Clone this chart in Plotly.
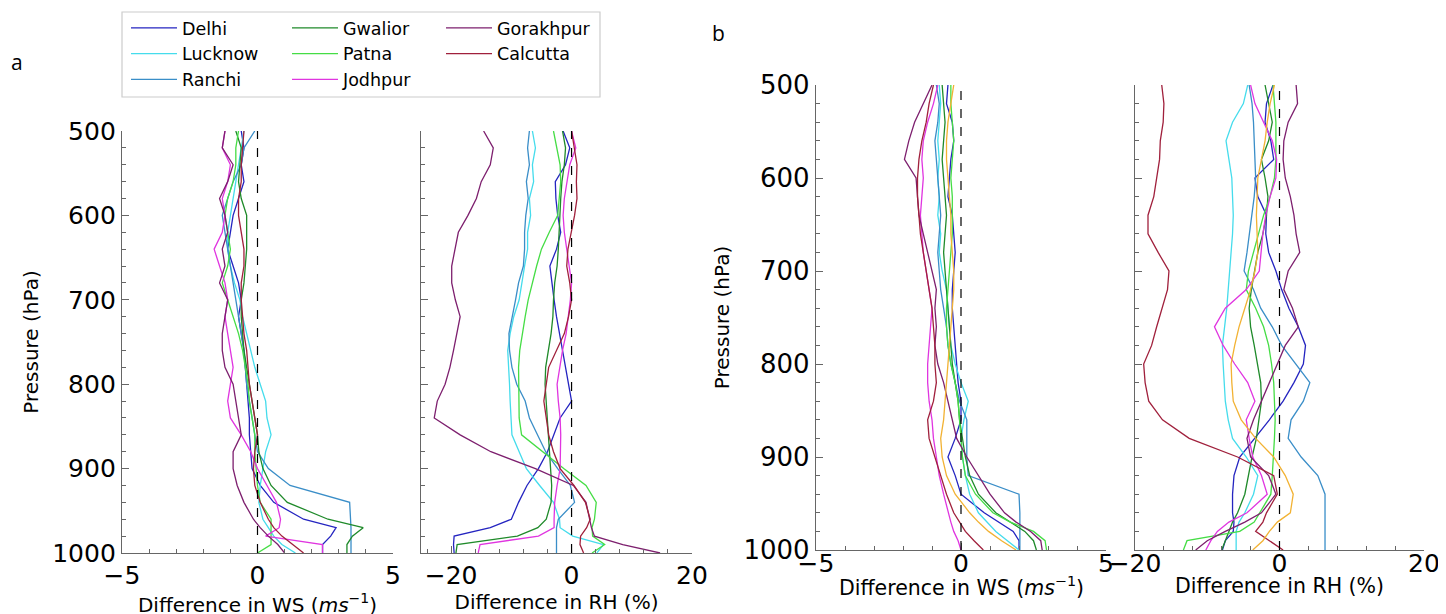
import plotly.graph_objects as go

# pressure levels (hPa) shared by every profile
pressure = [500, 520, 540, 560, 580, 600, 620,
            640, 660, 680, 700, 720, 740, 760,
            780, 800, 820, 840, 860, 880, 900,
            920, 940, 960, 970, 980, 990, 1000]

stations = ["Delhi", "Lucknow", "Ranchi", "Gwalior", "Patna", "Jodhpur", "Gorakhpur", "Calcutta"]
station_colors = ["#2424c0", "#45dcec", "#3a8ec8", "#1f8a2a", "#45dd45", "#e035e0", "#7d1f6e", "#a0203c"]
extra_color = "#f2b233"

# panel a - wind speed difference (m/s)
ws_a_delhi = [-0.6, -0.5, -0.6, -0.5, -0.7, -0.9, -1.0, -1.1, -0.9, -0.7, -0.6, -0.7, -0.6, -0.5,
              -0.45, -0.4, -0.35, -0.3, -0.3, -0.25, -0.2, 0.1, 0.6, 1.7, 2.9, 2.7, 2.4, 2.4]
ws_a_lucknow = [-0.5, -0.6, -0.7, -0.8, -0.9, -1.0, -1.1, -1.1, -1.0, -0.85, -0.65, -0.55, -0.4, -0.25,
                -0.1, 0.1, 0.3, 0.35, 0.5, 0.3, 0.2, 0.1, 0.05, 0.2, 0.4, 0.6, 0.9, 1.4]
ws_a_ranchi = [-0.1, -0.5, -0.6, -0.9, -1.1, -1.3, -1.2, -1.1, -1.0, -0.9, -0.8, -0.7, -0.6, -0.5,
               -0.45, -0.4, -0.3, -0.2, -0.1, 0.0, 0.4, 1.2, 3.4, 3.45, 3.45, 3.45, 3.45, 3.45]
ws_a_gwalior = [-0.8, -0.6, -0.65, -0.7, -0.6, -0.4, -0.4, -0.4, -0.45, -0.5, -0.6, -0.6, -0.55, -0.5,
                -0.4, -0.3, -0.2, -0.1, 0.0, 0.05, 0.2, 0.5, 1.1, 2.6, 3.9, 3.5, 3.3, 3.3]
ws_a_patna = [-0.7, -0.8, -0.8, -0.9, -1.1, -1.2, -1.1, -1.0, -1.1, -1.3, -1.1, -0.9, -0.7, -0.55,
              -0.45, -0.35, -0.3, -0.2, -0.1, -0.1, -0.05, 0.0, 0.1, 0.5, 0.5, 0.5, 0.5, 0.0]
ws_a_jodhpur = [-1.2, -1.3, -1.0, -1.1, -1.3, -1.2, -1.3, -1.6, -1.4, -1.2, -1.1, -1.2, -1.1, -1.0,
                -0.9, -1.0, -1.1, -1.0, -0.6, -0.25, 0.0, 0.35, 0.7, 0.85, 0.8, 0.3, 2.4, 2.4]
ws_a_gorakhpur = [-1.2, -1.3, -0.9, -1.1, -1.4, -1.2, -1.1, -1.3, -1.2, -1.4, -1.1, -1.2, -1.3, -1.3,
                  -1.2, -0.9, -0.8, -0.7, -0.6, -0.9, -0.9, -0.75, -0.5, -0.15, 0.1, 0.4, 0.75, 1.0]
ws_a_calcutta = [-0.5, -0.55, -0.6, -0.6, -0.7, -0.7, -0.6, -0.5, -0.5, -0.6, -0.6, -0.55, -0.5, -0.4,
                 -0.35, -0.3, -0.2, -0.1, 0.0, -0.1, -0.15, -0.1, 0.1, 0.4, 0.6, 0.9, 1.3, 1.7]

# panel a - relative humidity difference (%)
rh_a_delhi = [-1.4, -0.3, -1.0, -2.7, -2.6, -2.3, -1.8, -2.5, -3.6, -3.3, -2.9, -2.5, -2.0, -1.5,
              -1.0, -0.5, 0.0, -1.9, -3.0, -4.0, -5.5, -7.4, -8.8, -10.0, -13.5, -19.5, -19.6, -19.5]
rh_a_lucknow = [-6.5, -6.0, -6.5, -6.3, -7.0, -6.8, -7.3, -7.3, -7.8, -8.3, -8.7, -9.6, -10.2, -10.6,
                -10.4, -10.3, -10.2, -10.1, -9.9, -8.7, -7.5, -5.3, -3.0, -2.0, -1.9, 0.2, 5.3, 4.2]
rh_a_ranchi = [-7.0, -7.3, -7.0, -7.5, -7.2, -7.6, -7.8, -7.8, -8.0, -8.8, -9.3, -9.8, -10.4, -10.3,
               -9.9, -9.1, -7.7, -7.0, -5.7, -4.3, -2.3, -0.2, 0.5, -2.2, -2.5, -2.5, -2.5, -2.5]
rh_a_gwalior = [-1.5, -1.0, -1.2, -1.6, -1.8, -1.9, -2.0, -2.2, -2.4, -2.8, -3.0, -3.1, -3.4, -3.9,
                -4.3, -4.4, -4.2, -4.1, -3.9, -3.6, -3.4, -3.3, -3.4, -4.2, -5.6, -9.0, -19.0, -19.2]
rh_a_patna = [-3.0, -2.5, -1.9, -1.8, -2.0, -2.3, -3.7, -5.0, -5.8, -6.5, -7.2, -7.7, -8.2, -8.6,
              -8.8, -8.8, -8.8, -8.7, -8.3, -4.8, -1.3, 2.4, 4.1, 3.8, 3.4, 3.5, 5.5, 3.4]
rh_a_jodhpur = [0.0, 0.7, -0.3, -0.8, -1.2, -1.4, -1.2, -0.8, -0.4, 0.0, -0.2, -0.6, -0.9, -1.5,
                -2.0, -2.4, -2.2, -1.9, -1.8, -1.8, -1.9, -2.4, -2.8, -2.9, -2.9, -5.5, -15.2, -15.5]
rh_a_gorakhpur = [-14.6, -13.0, -13.5, -15.0, -15.8, -17.2, -18.8, -19.4, -19.9, -19.9, -19.3, -18.5, -19.0, -19.6,
                  -20.2, -21.0, -22.3, -22.8, -18.5, -13.4, -6.0, 0.3, 2.4, 3.0, 3.3, 3.8, 8.5, 14.7]
rh_a_calcutta = [0.0, 0.5, 0.9, 0.8, 0.9, 0.5, 0.0, -0.6, -0.8, -0.3, 0.0, -0.5, -1.2, -2.5,
                 -3.8, -4.2, -4.6, -4.2, -3.8, -3.0, -1.9, 0.4, 2.3, 3.1, 2.5, 1.5, 1.4, 2.0]

# panel b - wind speed difference (m/s)
ws_b_delhi = [-0.45, -0.5, -0.3, -0.25, -0.35, -0.4, -0.45, -0.3, -0.25, -0.2, -0.25, -0.3, -0.3, -0.25,
              -0.2, -0.15, -0.1, 0.0, 0.0, -0.2, -0.45, -0.2, 0.0, 0.8, 1.3, 1.8, 2.0, 2.0]
ws_b_lucknow = [-0.75, -0.7, -0.75, -0.8, -0.75, -0.8, -0.75, -0.8, -0.7, -0.75, -0.65, -0.5, -0.45, -0.4,
                -0.35, -0.2, 0.0, 0.25, 0.1, 0.0, 0.05, 0.15, 0.3, 0.6, 0.9, 1.2, 1.6, 2.0]
ws_b_ranchi = [-0.85, -0.75, -0.8, -0.9, -0.85, -0.8, -0.75, -0.7, -0.75, -0.8, -0.75, -0.7, -0.6, -0.5,
               -0.45, -0.35, -0.2, -0.05, 0.2, 0.2, 0.2, 0.25, 2.0, 2.03, 2.03, 2.03, 2.03, 2.03]
ws_b_gwalior = [-0.65, -0.6, -0.55, -0.6, -0.65, -0.6, -0.55, -0.5, -0.55, -0.6, -0.55, -0.5, -0.45, -0.4,
                -0.35, -0.3, -0.2, -0.1, -0.05, 0.05, 0.15, 0.3, 0.6, 1.2, 1.7, 2.2, 2.5, 2.6]
ws_b_patna = [-0.35, -0.35, -0.3, -0.25, -0.3, -0.35, -0.3, -0.3, -0.3, -0.35, -0.4, -0.45, -0.5, -0.5,
              -0.45, -0.35, -0.2, -0.1, -0.05, 0.0, 0.05, 0.15, 0.5, 1.1, 1.7, 2.5, 2.9, 2.95]
ws_b_jodhpur = [-0.8, -0.95, -1.15, -1.3, -1.35, -1.3, -1.35, -1.4, -1.35, -1.3, -1.2, -1.1, -1.0, -1.05,
                -1.1, -1.15, -1.15, -1.1, -1.0, -0.95, -0.85, -0.75, -0.6, -0.45, -0.35, -0.25, -0.1, 0.0]
ws_b_gorakhpur = [-1.0, -1.3, -1.6, -1.8, -1.95, -1.55, -1.5, -1.45, -1.3, -1.15, -1.0, -0.85, -0.9, -0.85,
                  -0.9, -0.8, -0.6, -0.45, -0.3, -0.15, 0.2, 0.6, 1.0, 1.5, 1.9, 2.4, 2.75, 2.8]
ws_b_calcutta = [-0.95, -1.1, -1.2, -1.35, -1.45, -1.5, -1.5, -1.45, -1.4, -1.3, -1.2, -1.1, -1.0, -0.95,
                 -0.9, -0.9, -0.85, -0.95, -1.15, -1.1, -0.9, -0.7, -0.5, -0.25, -0.05, 0.15, 0.45, 0.77]
ws_b_extra = [-0.25, -0.35, -0.45, -0.5, -0.5, -0.45, -0.4, -0.35, -0.35, -0.3, -0.25, -0.25, -0.3, -0.35,
              -0.4, -0.45, -0.5, -0.55, -0.6, -0.7, -0.65, -0.5, -0.2, 0.3, 0.6, 0.95, 1.4, 1.9]

# panel b - relative humidity difference (%)
rh_b_delhi = [-0.9, -1.8, -2.0, -1.2, -0.8, -3.4, -3.0, -1.8, -1.9, -1.5, -0.5, 0.3, 1.3, 2.6,
              3.6, 3.3, 2.0, 0.5, -1.4, -3.4, -5.5, -6.3, -6.5, -6.5, -6.3, -6.4, -7.5, -7.9]
rh_b_lucknow = [-4.4, -5.0, -6.5, -7.4, -7.0, -6.6, -6.5, -6.4, -6.5, -6.7, -6.8, -7.0, -7.3, -7.6,
                -7.9, -7.8, -7.6, -7.5, -7.1, -6.5, -4.6, -3.0, -3.6, -4.8, -5.6, -6.0, -6.0, -6.0]
rh_b_ranchi = [-4.2, -3.8, -3.6, -3.5, -3.4, -3.3, -3.5, -3.8, -4.1, -4.5, -4.9, -3.6, -2.6, -1.0,
               0.3, 2.2, 4.2, 3.3, 1.6, 1.2, 3.0, 5.3, 6.3, 6.3, 6.3, 6.3, 6.3, 6.3]
rh_b_gwalior = [-2.0, -1.5, -1.0, -1.5, -2.5, -2.0, -1.6, -1.8, -2.3, -3.0, -3.5, -3.9, -4.2, -4.0,
                -3.5, -3.0, -2.6, -2.5, -2.8, -3.2, -3.8, -4.3, -4.8, -5.8, -6.5, -7.0, -7.5, -8.0]
rh_b_patna = [-0.9, -0.7, -0.5, -0.5, -0.5, -0.7, -1.3, -2.2, -2.9, -3.6, -4.3, -4.6, -3.3, -2.2,
              -1.5, -1.1, -0.8, -0.7, -0.6, -0.7, -0.8, -1.0, -1.2, -2.7, -3.5, -5.5, -12.8, -13.3]
rh_b_jodhpur = [-4.0, -3.4, -2.2, -1.0, -0.4, -0.5, -1.3, -1.9, -2.3, -2.6, -2.8, -4.6, -7.5, -9.0,
                -7.8, -6.2, -4.4, -3.4, -4.6, -4.2, -3.7, -2.5, -1.7, -4.5, -7.0, -8.6, -9.5, -10.2]
rh_b_gorakhpur = [2.3, 2.5, 1.2, 0.6, 0.5, 0.8, 1.5, 2.0, 2.3, 2.8, 1.2, 0.6, 1.8, 2.6,
                  0.8, -0.3, -1.4, -2.6, -3.6, -4.5, -4.0, -1.5, -0.5, -2.5, -4.8, -7.5, -10.0, -11.6]
rh_b_calcutta = [-16.3, -16.0, -16.1, -16.5, -16.6, -17.0, -17.4, -18.2, -18.2, -16.8, -15.3, -15.5, -16.3, -17.0,
                 -17.7, -18.8, -18.6, -18.1, -16.2, -12.5, -5.8, -0.8, -0.3, -1.8, -2.3, -3.3, -1.4, 0.5]
rh_b_extra = [-0.7, -1.3, -1.7, -2.0, -2.5, -3.0, -3.1, -3.2, -3.1, -3.0, -3.4, -4.0, -4.8, -5.6,
              -6.2, -6.7, -6.6, -6.4, -5.3, -3.3, -0.8, 0.8, 1.9, 1.5, -0.3, -1.4, -2.3, -3.7]

ws_a = [ws_a_delhi, ws_a_lucknow, ws_a_ranchi, ws_a_gwalior, ws_a_patna, ws_a_jodhpur, ws_a_gorakhpur, ws_a_calcutta]
rh_a = [rh_a_delhi, rh_a_lucknow, rh_a_ranchi, rh_a_gwalior, rh_a_patna, rh_a_jodhpur, rh_a_gorakhpur, rh_a_calcutta]
ws_b = [ws_b_delhi, ws_b_lucknow, ws_b_ranchi, ws_b_gwalior, ws_b_patna, ws_b_jodhpur, ws_b_gorakhpur, ws_b_calcutta]
rh_b = [rh_b_delhi, rh_b_lucknow, rh_b_ranchi, rh_b_gwalior, rh_b_patna, rh_b_jodhpur, rh_b_gorakhpur, rh_b_calcutta]

# legend columns (three boxes side by side, filled column-wise)
legend_of = ["legend", "legend", "legend", "legend2", "legend2", "legend2", "legend3", "legend3"]

W, H = 1446, 614
OFF = 8  # the page body margin shifts the plot by 8 px
FONT = "DejaVu Sans"
AXIS_COLOR = "#666666"


def px(x):
    return (x - OFF) / W


def py(y):
    return 1 - (y - OFF) / H


def dom_x(left, right):
    return [px(left), px(right)]


def dom_y(top, bottom):
    return [py(bottom), py(top)]


fig = go.Figure()

# panels: (x axis, y axis, data)
panels = [("x", "y", ws_a), ("x2", "y2", rh_a), ("x3", "y3", ws_b), ("x4", "y4", rh_b)]
for k, (xa, ya, data) in enumerate(panels):
    for i, name in enumerate(stations):
        fig.add_scatter(
            x=data[i], y=pressure, mode="lines", name=name,
            line=dict(color=station_colors[i], width=1.3),
            xaxis=xa, yaxis=ya, legend=legend_of[i], legendgroup=name,
            showlegend=(k == 0),
        )

# the extra (orange) profile only appears in panel b
fig.add_scatter(x=ws_b_extra, y=pressure, mode="lines", line=dict(color=extra_color, width=1.3),
                xaxis="x3", yaxis="y3", showlegend=False)
fig.add_scatter(x=rh_b_extra, y=pressure, mode="lines", line=dict(color=extra_color, width=1.3),
                xaxis="x4", yaxis="y4", showlegend=False)

# dashed zero lines
for xa, ya in [("x", "y"), ("x2", "y2"), ("x3", "y3"), ("x4", "y4")]:
    fig.add_shape(type="line", xref=xa, yref=ya + " domain", x0=0, x1=0, y0=0, y1=1,
                  line=dict(color="black", width=1.2, dash="dash"))

# legend frame
fig.add_shape(type="rect", xref="paper", yref="paper",
              x0=px(122), x1=px(600), y0=py(97), y1=py(12),
              line=dict(color="#cccccc", width=1.2))

base = dict(showline=True, linecolor=AXIS_COLOR, linewidth=1.4, ticks="inside", ticklen=7,
            tickwidth=1.2, tickcolor=AXIS_COLOR, showgrid=False, zeroline=False, automargin=False)
ws_title = "Difference in WS (<i>ms</i><sup>−1</sup>)"
rh_title = "Difference in RH (%)"


def xaxis(domain, rng, dtick, minor, anchor, title, label_off, tick_size):
    return dict(base, domain=domain, range=rng, dtick=dtick, tick0=0, anchor=anchor,
                ticklabelstandoff=label_off,
                tickfont=dict(family=FONT, size=tick_size, color="black"),
                minor=dict(dtick=minor, tick0=0, ticks="inside", ticklen=4, tickcolor=AXIS_COLOR),
                title=dict(text=title, font=dict(family=FONT, size=20, color="black"), standoff=2))


def yaxis(domain, anchor, labels, tick_size):
    return dict(base, domain=domain, range=[1000, 500], dtick=100, anchor=anchor,
                showticklabels=labels,
                tickfont=dict(family=FONT, size=tick_size, color="black"),
                minor=dict(dtick=20, ticks="inside", ticklen=4, tickcolor=AXIS_COLOR),
                title=dict(text="Pressure (hPa)" if labels else "",
                           font=dict(family=FONT, size=20, color="black"), standoff=8))


ya = dom_y(131, 553)
yb = dom_y(85, 550)
leg = dict(y=py(10), xanchor="left", yanchor="top", bgcolor="rgba(0,0,0,0)",
           font=dict(family=FONT, size=17.5), tracegroupgap=0, itemwidth=46)
b_title_font = dict(family=FONT, size=20.5, color="black")

fig.update_layout(
    width=W, height=H,
    margin=dict(l=0, r=0, t=0, b=0),
    paper_bgcolor="white", plot_bgcolor="white",
    font=dict(family=FONT, color="black"),
    xaxis=xaxis(dom_x(122, 393), [-5, 5], 5, 1, "y", ws_title, 0, 25),
    yaxis=yaxis(ya, "x", True, 25),
    xaxis2=xaxis(dom_x(421, 692), [-25, 20], 20, 4, "y2", rh_title, 0, 25),
    yaxis2=yaxis(ya, "x2", False, 25),
    # panel b titles sit tight under the tick labels, so they are placed as annotations
    xaxis3=xaxis(dom_x(816, 1106), [-5, 5], 5, 1, "y3", "", -9, 25),
    yaxis3=yaxis(yb, "x3", True, 26),
    xaxis4=xaxis(dom_x(1135, 1424), [-20, 20], 20, 4, "y4", "", -9, 25),
    yaxis4=yaxis(yb, "x4", False, 26),
    legend=dict(leg, x=px(126)),
    legend2=dict(leg, x=px(287)),
    legend3=dict(leg, x=px(441)),
    annotations=[
        dict(text="a", x=px(17), y=py(62), xref="paper", yref="paper", showarrow=False,
             xanchor="center", yanchor="middle", font=dict(family="Open Sans", size=21, color="black")),
        dict(text="b", x=px(718), y=py(33), xref="paper", yref="paper", showarrow=False,
             xanchor="center", yanchor="middle", font=dict(family="Open Sans", size=21, color="black")),
        dict(text=ws_title, x=0.5, y=py(586), xref="x3 domain", yref="paper", showarrow=False,
             xanchor="center", yanchor="middle", font=b_title_font),
        dict(text=rh_title, x=0.5, y=py(586), xref="x4 domain", yref="paper", showarrow=False,
             xanchor="center", yanchor="middle", font=b_title_font),
    ],
)

fig.write_html("out.html")
